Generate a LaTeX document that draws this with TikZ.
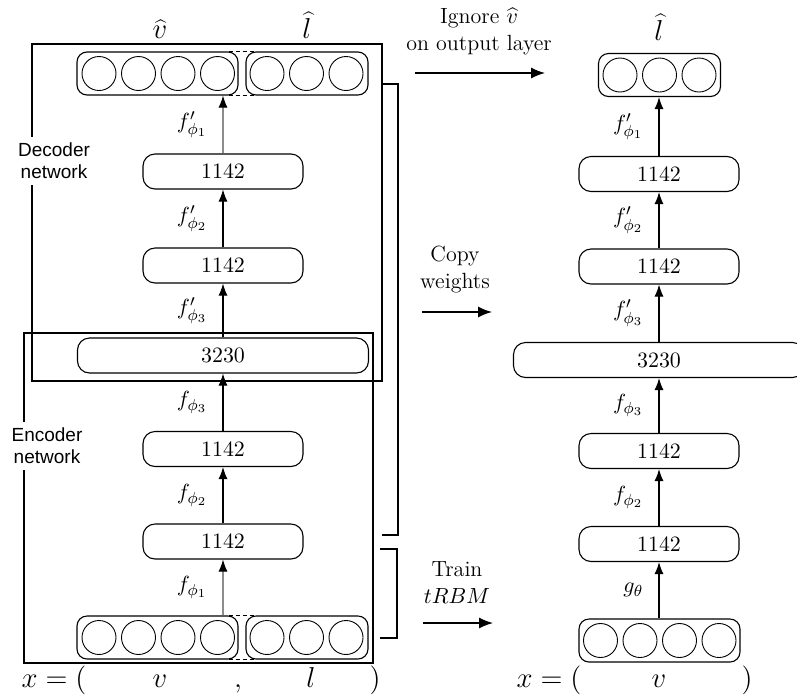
\documentclass[tikz,border=0pt,11pt]{standalone}
\usepackage{fontspec}
\newfontfamily\netfont{Liberation Sans}
\usetikzlibrary{arrows.meta}

\begin{document}
\begin{tikzpicture}[x=0.5pt, y=-0.5pt, line width=0.55pt,
    layer/.style={draw, rounded corners=6pt, minimum width=80pt, minimum height=17.5pt, inner sep=0pt},
    wide/.style={layer, minimum width=145.5pt},
    unit/.style={draw, circle, minimum size=17pt, inner sep=0pt, line width=0.45pt},
    group/.style={draw, rounded corners=5pt, minimum height=21.5pt, inner sep=0pt},
    up/.style={-{Latex[length=6pt, width=4.5pt]}},
    upgray/.style={draw=black!45, -{Latex[length=6pt, width=4.5pt, black]}},
    side/.style={-{Latex[length=7pt, width=5.5pt]}, line width=0.65pt},
    fname/.style={midway, left=4pt},
    netlabel/.style={fill=white, align=center, inner sep=3pt, font=\netfont\fontsize{9.5}{11}\selectfont},
    note/.style={align=center, font=\fontsize{11}{13.5}\selectfont},
    bot/.style={inner sep=0pt, anchor=base, font=\Large},
    gap/.style={dashed, dash pattern=on 2pt off 1.5pt}]

    \useasboundingbox (0,0) rectangle (797,697);

    % left network: output layer
    \node[group, minimum width=80.5pt] (outv) at (157.5,73.5) {};
    \node[group, minimum width=61pt] (outl) at (307,73.5) {};
    \foreach \i/\x in {1/99,2/138.5,3/178,4/217.5}
        \node[unit] (ov\i) at (\x,73.5) {};
    \foreach \i/\x in {1/267,2/306.5,3/346}
        \node[unit] (ol\i) at (\x,73.5) {};
    \draw[gap] ([xshift=-5pt]outv.north east) -- ([xshift=5pt]outl.north west);
    \draw[gap] ([xshift=-5pt]outv.south east) -- ([xshift=5pt]outl.south west);
    \node[bot] (vhat) at (160,38) {$\widehat{v}$};
    \node[bot] (lhat) at (307,38) {$\widehat{l}$};

    % left network: hidden layers
    \node[layer] (hd1) at (223,171.5) {1142};
    \node[layer] (hd2) at (223,265.5) {1142};
    \node[wide] (hmid) at (223,355.5) {3230};
    \node[layer] (he3) at (223,449) {1142};
    \node[layer] (he2) at (223,541.5) {1142};

    % left network: input layer
    \node[group, minimum width=80.5pt] (inv) at (157.5,637.5) {};
    \node[group, minimum width=61pt] (inl) at (307,637.5) {};
    \foreach \i/\x in {1/99,2/138.5,3/178,4/217.5}
        \node[unit] (iv\i) at (\x,637.5) {};
    \foreach \i/\x in {1/267,2/306.5,3/346}
        \node[unit] (il\i) at (\x,637.5) {};
    \draw[gap] ([xshift=-5pt]inv.north east) -- ([xshift=5pt]inl.north west);
    \draw[gap] ([xshift=-5pt]inv.south east) -- ([xshift=5pt]inl.south west);

    \draw[upgray] (inv.north -| he2) -- (he2) node[fname] {$f_{\phi_1}$};
    \draw[up] (he2) -- (he3) node[fname] {$f_{\phi_2}$};
    \draw[up] (he3) -- (hmid) node[fname] {$f_{\phi_3}$};
    \draw[up] (hmid) -- (hd2) node[fname] {$f'_{\phi_3}$};
    \draw[up] (hd2) -- (hd1) node[fname] {$f'_{\phi_2}$};
    \draw[upgray] (hd1) -- (outv.south -| hd1) node[fname] {$f'_{\phi_1}$};

    % decoder and encoder frames
    \draw (32,44) rectangle (382,381);
    \draw (24,333) rectangle (373,663);
    \node[netlabel] (declbl) at (54,161) {Decoder\\network};
    \node[netlabel] (enclbl) at (47,446) {Encoder\\network};

    % brackets
    \coordinate (b1) at (382,84);
    \coordinate (b2) at (382,535);
    \coordinate (b3) at (380,549);
    \coordinate (b4) at (380,638);
    \draw (b1) -- ++(16,0) |- (b2);
    \draw (b3) -- ++(17,0) |- (b4);

    % input row
    \node[bot, anchor=base east] (xeq) at (87,687) {$x=($};
    \node[bot] (xv) at (160,687) {$v$};
    \node[bot] (xc) at (238,687) {$,$};
    \node[bot] (xl) at (311,687) {$l$};
    \node[bot] (xr) at (375,687) {$)$};

    % steps
    \node[note] (ign) at (479,31.5) {Ignore $\widehat{v}$\\on output layer};
    \coordinate (s1) at (415,73);
    \coordinate (s2) at (545,73);
    \draw[side] (s1) -- (s2);
    \node[note] (cpy) at (455,270) {Copy\\weights};
    \coordinate (s3) at (422,312);
    \coordinate (s4) at (492,312);
    \draw[side] (s3) -- (s4);
    \node[note] (trn) at (457,582.5) {Train\\$tRBM$};
    \coordinate (s5) at (423,623);
    \coordinate (s6) at (493,623);
    \draw[side] (s5) -- (s6);

    % right network
    \node[group, minimum width=61pt] (routl) at (659.5,75) {};
    \foreach \i/\x in {1/620,2/659.5,3/699}
        \node[unit] (rl\i) at (\x,75) {};
    \node[bot] (rlhat) at (659,40) {$\widehat{l}$};
    \node[layer] (rd1) at (659,174) {1142};
    \node[layer] (rd2) at (659,266.5) {1142};
    \node[wide] (rmid) at (659,360) {3230};
    \node[layer] (re3) at (659,451) {1142};
    \node[layer] (re2) at (659,544) {1142};
    \node[group, minimum width=80.5pt] (rinv) at (659.5,640.5) {};
    \foreach \i/\x in {1/600.5,2/640,3/679.5,4/719}
        \node[unit] (rv\i) at (\x,640.5) {};

    \draw[up] (rinv.north -| re2) -- (re2) node[fname] {$g_{\theta}$};
    \draw[up] (re2) -- (re3) node[fname] {$f_{\phi_2}$};
    \draw[up] (re3) -- (rmid) node[fname] {$f_{\phi_3}$};
    \draw[up] (rmid) -- (rd2) node[fname] {$f'_{\phi_3}$};
    \draw[up] (rd2) -- (rd1) node[fname] {$f'_{\phi_2}$};
    \draw[up] (rd1) -- (routl.south -| rd1) node[fname] {$f'_{\phi_1}$};

    \node[bot, anchor=base east] (rxeq) at (582,687) {$x=($};
    \node[bot] (rxv) at (659,687) {$v$};
    \node[bot] (rxr) at (747,687) {$)$};

\end{tikzpicture}
\end{document}
